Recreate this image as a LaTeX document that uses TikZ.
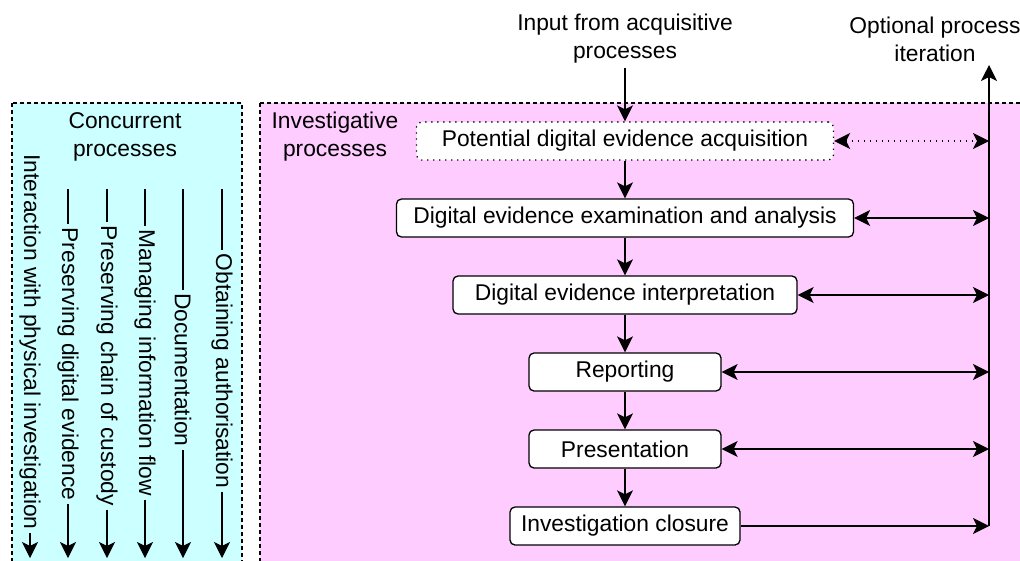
\documentclass[tikz,border=0pt]{standalone}
\usepackage{fontspec}
\setmainfont{Liberation Sans}
\usetikzlibrary{arrows.meta}
\definecolor{lanecyan}{HTML}{CCFFFF}
\definecolor{invpink}{HTML}{FFCCFF}

\begin{document}
\begin{tikzpicture}[x=1pt,y=1pt,>={Stealth[length=16pt,width=16pt,inset=4pt]},line width=1.3pt,node distance=77pt,
  every node/.style={font=\fontsize{22.8}{28}\selectfont},
  area/.style={draw,dash pattern=on 4pt off 3pt},
  proc/.style={draw,fill=white,rounded corners=5pt,minimum height=38pt,inner sep=0pt},
  lane/.style={rotate=-90,inner sep=3pt},
  dots/.style={dash pattern=on 1.3pt off 4.7pt}]

\clip (0,0) rectangle (1020,-560);

% the two process areas
\draw[area,fill=lanecyan] (12,-103) rectangle (242,-600);
\draw[area,fill=invpink] (260,-103) rectangle (1060,-600);

\node[align=center] (conc) at (125,-137) {Concurrent\\processes};
\node[align=center] (inv) at (335,-137) {Investigative\\processes};
\node[align=center] (input) at (625,-39) {Input from acquisitive\\processes};
\node[align=center] (opt) at (935,-39) {Optional process\\iteration};

% investigative chain
\node[proc,dots,minimum width=417pt] (pot) at (625,-141) {Potential digital evidence acquisition};
\node[proc,minimum width=457pt] (exam) [below of=pot] {Digital evidence examination and analysis};
\node[proc,minimum width=344pt] (interp) [below of=exam] {Digital evidence interpretation};
\node[proc,minimum width=192pt] (report) [below of=interp] {Reporting};
\node[proc,minimum width=192pt] (present) [below of=report] {Presentation};
\node[proc,minimum width=230pt] (close) [below of=present] {Investigation closure};

\coordinate (itop) at (989,-65);
\coordinate (ibot) at (close -| itop);

\path[->]
(input) edge (pot)
(pot) edge (exam)
      edge [<->,dots] (pot -| itop)
(exam) edge (interp)
       edge [<->] (exam -| itop)
(interp) edge (report)
         edge [<->] (interp -| itop)
(report) edge (present)
         edge [<->] (report -| itop)
(present) edge (close)
          edge [<->] (present -| itop)
(close) edge (ibot)
(ibot) edge (itop)
;

% concurrent processes
\foreach \n/\x/\y/\txt in {auth/222/371/Obtaining authorisation,
    doc/183/370/Documentation,
    flow/145/363/Managing information flow,
    chain/107/366/Preserving chain of custody,
    pres/68/364/Preserving digital evidence}
{
  \coordinate (\n top) at (\x,-189);
  \coordinate (\n end) at (\x,-558);
  \node[lane] (\n) at (\x,-\y) {\txt};
  \draw (\n top) -- (\n);
  \draw[->] (\n) -- (\n end);
}
\node[lane] (inter) at (30,-342) {Interaction with physical investigation};
\coordinate (inter end) at (30,-558);
\draw[->] (inter) -- (inter end);
\end{tikzpicture}
\end{document}
